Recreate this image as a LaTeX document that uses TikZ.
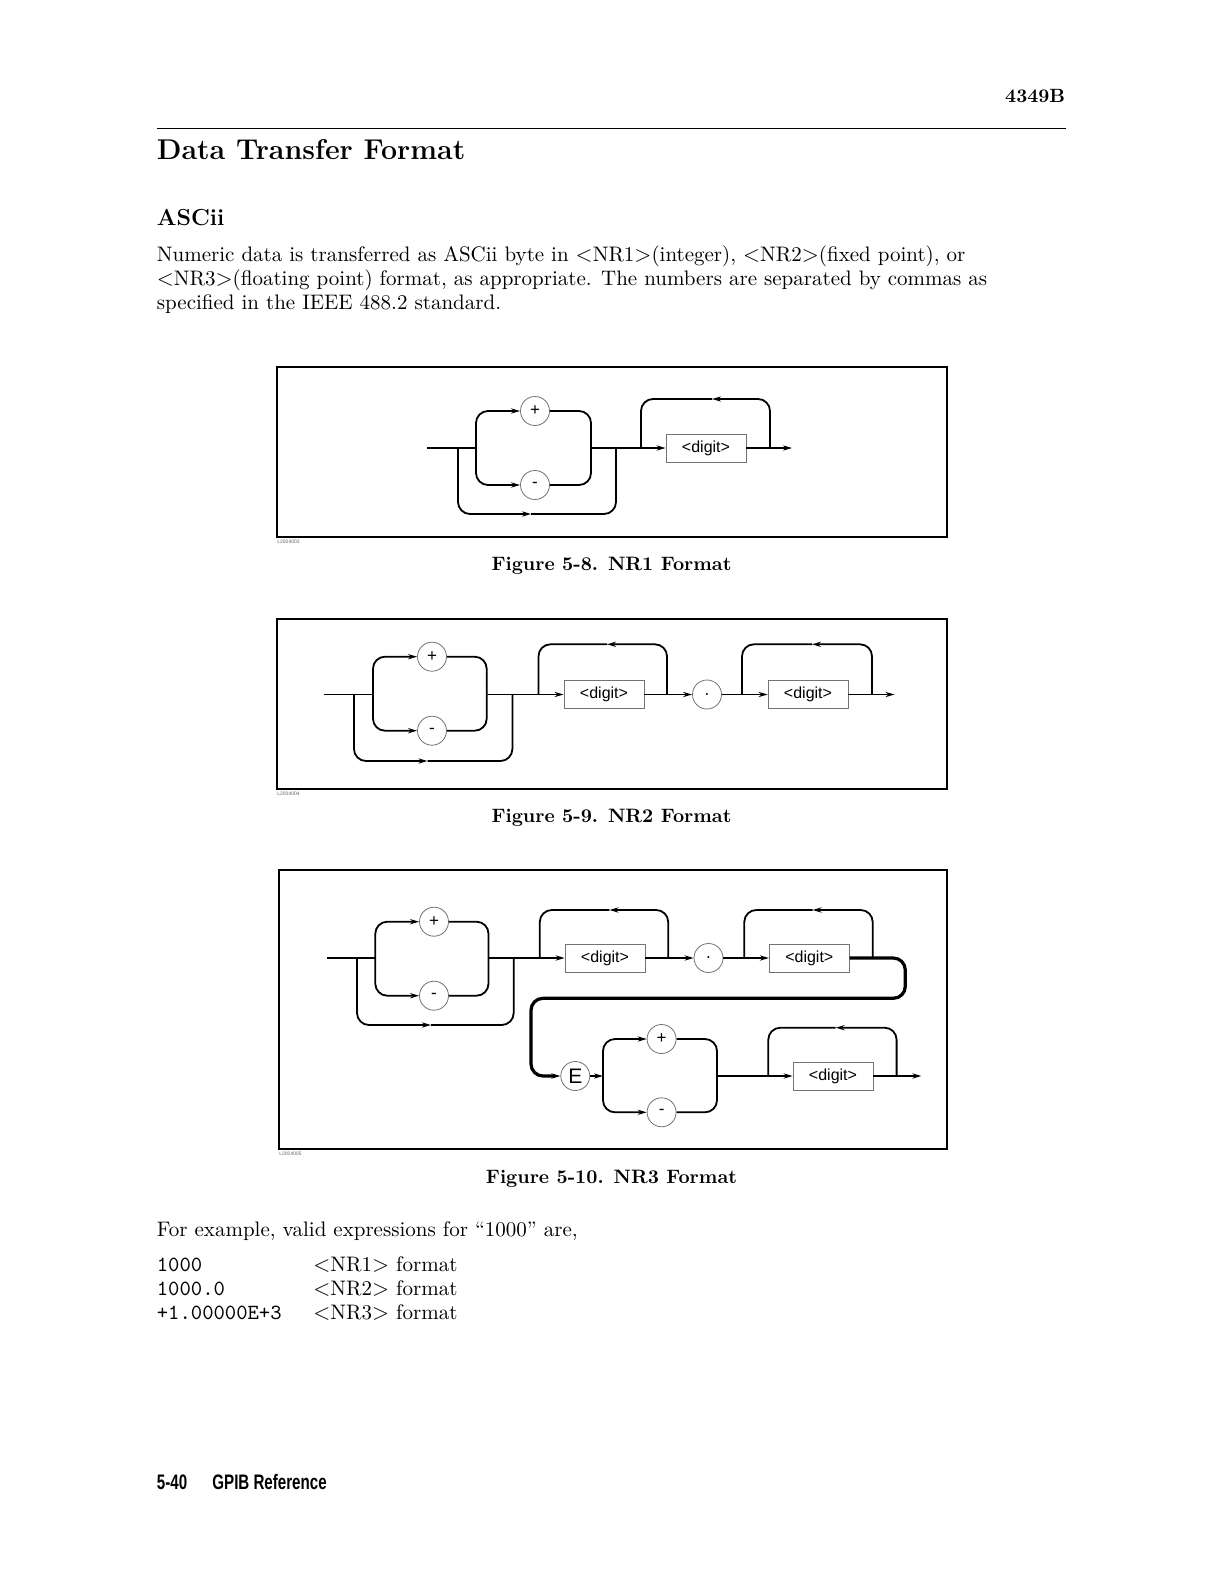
\documentclass[tikz,border=0pt]{standalone}
\usepackage{fontspec}
\usepackage{tikz}
\usetikzlibrary{arrows.meta,positioning}
\newfontfamily\helv{Liberation Sans}

\begin{document}
\begin{tikzpicture}[
  x=0.5pt,y=-0.5pt,
  line/.style={line width=0.9pt,rounded corners=6pt},
  arr/.style={line,-{Stealth[length=4.5pt,width=2.6pt]}},
  wrap/.style={arr,line width=1.6pt},
  sign/.style={circle,draw=black!55,line width=0.4pt,fill=white,minimum size=14.5pt,inner sep=0pt,font=\helv\fontsize{8.5}{9}\selectfont},
  bigsign/.style={sign,font=\helv\fontsize{10.5}{12}\selectfont},
  digit/.style={draw=black!55,line width=0.4pt,fill=white,minimum width=40pt,minimum height=14pt,inner sep=0pt,font=\helv\fontsize{8}{9}\selectfont},
  frame/.style={draw,line width=1.4pt},
  body/.style={anchor=base west,inner sep=0pt,font=\fontsize{10.5}{12}\selectfont},
  code/.style={body,font=\ttfamily\fontsize{10.8}{12}\selectfont},
  caption/.style={anchor=base,inner sep=0pt,font=\bfseries\fontsize{9.7}{12}\selectfont},
  figid/.style={anchor=north west,inner sep=0pt,font=\helv\fontsize{2.5}{3}\selectfont,text=black!60}
]
\useasboundingbox[fill=white] (0,0) rectangle (1224,1584);

\node[anchor=base east,inner sep=0pt,font=\bfseries\fontsize{9.6}{11}\selectfont] (model) at (1065.5,102.5) {4349B};
\draw[line width=0.6pt] (156.5,128.3) -- (1065.5,128.3);
\node[anchor=base west,inner sep=0pt,font=\bfseries\fontsize{14.3}{16}\selectfont] (title) at (156.5,160) {Data Transfer Format};
\node[anchor=base west,inner sep=0pt,font=\bfseries\fontsize{11.6}{14}\selectfont] (ascii) at (156.5,225.2) {ASCii};
\node[body] (par1) at (156.5,261.6) {Numeric data is transferred as ASCii byte in $<$NR1$>$(integer), $<$NR2$>$(fixed point), or};
\node[body] (par2) at (156.5,285.8) {$<$NR3$>$(floating point) format, as appropriate. The numbers are separated by commas as};
\node[body] (par3) at (156.5,309) {specified in the IEEE 488.2 standard.};

\draw[frame] (277,367) rectangle (947,537);
\node[figid] (nr1id) at (277,540) {L2004003};
\node[sign] (nr1plus) at (535,411) {+};
\node[sign] (nr1minus) at (535,485) {-};
\node[digit] (nr1dig) at (706,448) {<digit>};
\coordinate (nr1in) at (427,448);
\coordinate (nr1skip) at (458,448);
\coordinate (nr1fork) at (476,448);
\coordinate (nr1merge) at (591,448);
\coordinate (nr1back) at (616,448);
\coordinate (nr1low) at (531,514);
\coordinate (nr1rep) at (641,448);
\coordinate (nr1top) at (712,399);
\coordinate (nr1loop) at (770,448);
\coordinate (nr1out) at (792,448);
\draw[line] (nr1in) -- (nr1fork);
\draw[arr] (nr1fork) |- (nr1plus);
\draw[arr] (nr1fork) |- (nr1minus);
\draw[line] (nr1plus) -| (nr1merge);
\draw[line] (nr1minus) -| (nr1merge);
\draw[arr] (nr1skip) |- (nr1low);
\draw[line] (nr1low) -| (nr1back);
\draw[arr] (nr1merge) -- (nr1dig);
\draw[arr] (nr1loop) |- (nr1top);
\draw[line] (nr1top) -| (nr1rep);
\draw[arr] (nr1dig) -- (nr1out);
\node[caption] (nr1cap) at (611.5,570.6) {Figure 5-8. NR1 Format};

\draw[frame] (277,619) rectangle (947,789);
\node[figid] (nr2id) at (277,792) {L2004004};
\node[sign] (nr2plus) at (432,656.7) {+};
\node[sign] (nr2minus) at (432,730.7) {-};
\node[digit] (nr2int) at (604,694.5) {<digit>};
\node[sign] (nr2dot) at (707,694.5) {.};
\node[digit] (nr2frac) at (808,694.5) {<digit>};
\coordinate (nr2in) at (324.4,694.5);
\coordinate (nr2skip) at (354,694.5);
\coordinate (nr2fork) at (373,694.5);
\coordinate (nr2merge) at (486.7,694.5);
\coordinate (nr2back) at (512.4,694.5);
\coordinate (nr2low) at (427.5,761);
\coordinate (nr2rep) at (538.5,694.5);
\coordinate (nr2top) at (607,644.3);
\coordinate (nr2loop) at (667,694.5);
\coordinate (nr2frep) at (742,694.5);
\coordinate (nr2ftop) at (812,644.3);
\coordinate (nr2floop) at (872,694.5);
\coordinate (nr2out) at (894.5,694.5);
\draw[line] (nr2in) -- (nr2fork);
\draw[arr] (nr2fork) |- (nr2plus);
\draw[arr] (nr2fork) |- (nr2minus);
\draw[line] (nr2plus) -| (nr2merge);
\draw[line] (nr2minus) -| (nr2merge);
\draw[arr] (nr2skip) |- (nr2low);
\draw[line] (nr2low) -| (nr2back);
\draw[arr] (nr2merge) -- (nr2int);
\draw[arr] (nr2loop) |- (nr2top);
\draw[line] (nr2top) -| (nr2rep);
\draw[arr] (nr2int) -- (nr2dot);
\draw[arr] (nr2dot) -- (nr2frac);
\draw[arr] (nr2floop) |- (nr2ftop);
\draw[line] (nr2ftop) -| (nr2frep);
\draw[arr] (nr2frac) -- (nr2out);
\node[caption] (nr2cap) at (611.5,822) {Figure 5-9. NR2 Format};

\draw[frame] (279,870) rectangle (947,1149);
\node[figid] (nr3id) at (279,1152) {L2004005};
\node[sign] (nr3plus) at (434,921.7) {+};
\node[sign] (nr3minus) at (434,995.7) {-};
\node[digit] (nr3int) at (605,958) {<digit>};
\node[sign] (nr3dot) at (708.5,958) {.};
\node[digit] (nr3frac) at (809.3,958) {<digit>};
\node[bigsign] (nr3e) at (575.3,1076) {E};
\node[sign] (nr3eplus) at (661.6,1039) {+};
\node[sign] (nr3eminus) at (661.6,1112.3) {-};
\node[digit] (nr3exp) at (833,1076) {<digit>};
\coordinate (nr3in) at (326.6,958);
\coordinate (nr3skip) at (357,958);
\coordinate (nr3fork) at (375.3,958);
\coordinate (nr3merge) at (488.5,958);
\coordinate (nr3back) at (513.7,958);
\coordinate (nr3low) at (431,1025);
\coordinate (nr3rep) at (539.8,958);
\coordinate (nr3top) at (609.4,910);
\coordinate (nr3loop) at (668.2,958);
\coordinate (nr3frep) at (744.3,958);
\coordinate (nr3ftop) at (812.6,910);
\coordinate (nr3floop) at (872.7,958);
\coordinate (nr3turn) at (905.3,998.3);
\coordinate (nr3down) at (531,998.3);
\coordinate (nr3efork) at (603,1076);
\coordinate (nr3emerge) at (717,1076);
\coordinate (nr3xrep) at (768.3,1076);
\coordinate (nr3xtop) at (835.7,1027.7);
\coordinate (nr3xloop) at (896.6,1076);
\coordinate (nr3out) at (921.4,1076);
\draw[line] (nr3in) -- (nr3fork);
\draw[arr] (nr3fork) |- (nr3plus);
\draw[arr] (nr3fork) |- (nr3minus);
\draw[line] (nr3plus) -| (nr3merge);
\draw[line] (nr3minus) -| (nr3merge);
\draw[arr] (nr3skip) |- (nr3low);
\draw[line] (nr3low) -| (nr3back);
\draw[arr] (nr3merge) -- (nr3int);
\draw[arr] (nr3loop) |- (nr3top);
\draw[line] (nr3top) -| (nr3rep);
\draw[arr] (nr3int) -- (nr3dot);
\draw[arr] (nr3dot) -- (nr3frac);
\draw[arr] (nr3floop) |- (nr3ftop);
\draw[line] (nr3ftop) -| (nr3frep);
\draw[wrap] (nr3frac) -| (nr3turn) -- (nr3down) |- (nr3e);
\draw[arr] (nr3e) -- (nr3efork);
\draw[arr] (nr3efork) |- (nr3eplus);
\draw[arr] (nr3efork) |- (nr3eminus);
\draw[line] (nr3eplus) -| (nr3emerge);
\draw[line] (nr3eminus) -| (nr3emerge);
\draw[arr] (nr3emerge) -- (nr3exp);
\draw[arr] (nr3xloop) |- (nr3xtop);
\draw[line] (nr3xtop) -| (nr3xrep);
\draw[arr] (nr3exp) -- (nr3out);
\node[caption] (nr3cap) at (611.5,1183.6) {Figure 5-10. NR3 Format};

\node[body] (example) at (156.5,1236) {For example, valid expressions for ``1000'' are,};
\node[code] (ex1) at (156.5,1271.4) {1000};
\node[code] (ex2) at (156.5,1295.7) {1000.0};
\node[code] (ex3) at (156.5,1319) {+1.00000E+3};
\node[body] (fmt1) at (313,1271.4) {$<$NR1$>$ format};
\node[body] (fmt2) at (313,1295.7) {$<$NR2$>$ format};
\node[body] (fmt3) at (313,1319) {$<$NR3$>$ format};

\node[anchor=base west,inner sep=0pt,font=\helv\bfseries\fontsize{10.5}{12}\selectfont] (page) at (156.5,1489.6) {\scalebox{0.72}[1]{5-40}};
\node[anchor=base west,inner sep=0pt,font=\helv\bfseries\fontsize{10.5}{12}\selectfont] (chapter) at (212,1489.6) {\scalebox{0.72}[1]{GPIB Reference}};
\end{tikzpicture}
\end{document}
